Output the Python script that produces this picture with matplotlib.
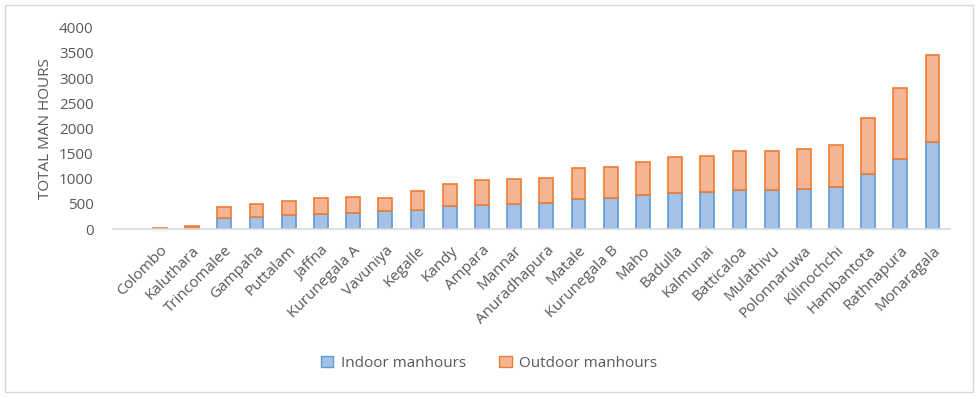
import matplotlib.pyplot as plt
from matplotlib.patches import Rectangle, Patch
import numpy as np

plt.rcParams['font.family'] = ['Open Sans', 'DejaVu Sans']

districts = ['Colombo', 'Kaluthara', 'Trincomalee', 'Gampaha', 'Puttalam', 'Jaffna',
             'Kurunegala A', 'Vavuniya', 'Kegalle', 'Kandy', 'Ampara', 'Mannar',
             'Anuradhapura', 'Matale', 'Kurunegala B', 'Maho', 'Badulla', 'Kalmunai',
             'Batticaloa', 'Mulathivu', 'Polonnaruwa', 'Kilinochchi', 'Hambantota',
             'Rathnapura', 'Monaragala']
indoor = [0, 20, 212, 238, 284, 298, 324, 351, 377, 451, 480, 496, 510, 596, 609,
          669, 715, 728, 774, 774, 794, 840, 1098, 1390, 1721]
outdoor = [25, 50, 231, 252, 278, 323, 311, 270, 377, 448, 500, 503, 508, 609, 628,
           667, 708, 721, 781, 774, 800, 834, 1099, 1415, 1733]

gray = '#595959'
blue_fill, blue_edge = '#A4C2E8', '#5B9BD5'
orange_fill, orange_edge = '#F5B594', '#ED7D31'

fig = plt.figure(figsize=(9.78, 3.99), dpi=100)
fig.patches.append(Rectangle((0.005, 0.0175), 0.990, 0.970, transform=fig.transFigure,
                             fill=False, edgecolor='#D9D9D9', linewidth=1))

ax = fig.add_axes([0.1155, 0.426, 0.8555, 0.5046])
x = np.arange(len(districts))
ax.bar(x, indoor, width=0.43, color=blue_fill, edgecolor=blue_edge, linewidth=1.2,
       label='Indoor manhours')
ax.bar(x, outdoor, width=0.43, bottom=indoor, color=orange_fill, edgecolor=orange_edge,
       linewidth=1.2, label='Outdoor manhours')

ax.set_ylim(0, 4000)
ax.set_xlim(-1.46, 24.53)
ax.set_yticks(range(0, 4001, 500))
ax.set_xticks(x)
ax.set_xticklabels(districts, rotation=45, ha='right', rotation_mode='anchor')
ax.tick_params(axis='both', length=0, colors=gray, labelsize=11)
ax.tick_params(axis='y', pad=14)
ax.tick_params(axis='x', pad=10)
for s in ['top', 'right', 'left']:
    ax.spines[s].set_visible(False)
ax.spines['bottom'].set_color('#D9D9D9')
ax.spines['bottom'].set_linewidth(1.2)
ax.set_ylabel('TOTAL MAN HOURS', color=gray, fontsize=11, labelpad=4)

handles = [Patch(facecolor=blue_fill, edgecolor=blue_edge, label='Indoor manhours'),
           Patch(facecolor=orange_fill, edgecolor=orange_edge, label='Outdoor manhours')]
leg = fig.legend(handles=handles, loc='center', bbox_to_anchor=(0.5, 0.09), ncol=2,
                 frameon=False, fontsize=11, handlelength=0.8, handleheight=0.8,
                 columnspacing=2.2, handletextpad=0.5)
for t in leg.get_texts():
    t.set_color(gray)

fig.savefig('out.png', dpi=100)
